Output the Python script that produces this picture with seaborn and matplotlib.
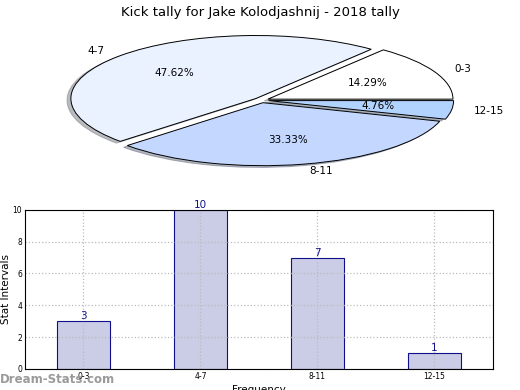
import pandas as pd
import matplotlib
matplotlib.use("Agg")
import matplotlib.pyplot as plt
import seaborn as sns

# data
intervals = ['0-3', '4-7', '8-11', '12-15']
counts = [3, 10, 7, 1]
pie_colors = ['#ffffff', '#eaf1ff', '#c3d7ff', '#b3d3ff']

sns.set_style("white")
plt.rcParams['font.family'] = ['DejaVu Sans']
plt.rcParams['text.color'] = 'black'
plt.rcParams['xtick.color'] = 'black'
plt.rcParams['ytick.color'] = 'black'
plt.rcParams['axes.labelcolor'] = 'black'

fig = plt.figure(figsize=(5.2, 3.9), dpi=100)

# pie (squashed ellipse)
ax1 = fig.add_axes([0.04, 0.533, 0.925, 0.42])
ax1.pie(counts, labels=intervals, colors=pie_colors, autopct='%.2f%%',
        startangle=0, counterclock=True, explode=[0.04] * 4,
        shadow={'ox': -0.015, 'oy': -0.02, 'shade': 0.5},
        labeldistance=1.12, pctdistance=0.6,
        wedgeprops={'edgecolor': 'black', 'linewidth': 0.7},
        textprops={'fontsize': 7.5})
ax1.set_aspect('auto')
ax1.set_xlim(-1.3, 1.3)
ax1.set_ylim(-1.3, 1.3)
fig.text(0.5, 0.985, 'Kick tally for Jake Kolodjashnij - 2018 tally',
         ha='center', va='top', fontsize=9.5)

# bars
df = pd.DataFrame({'interval': intervals, 'count': counts})
ax2 = fig.add_axes([0.048, 0.054, 0.9, 0.408])
sns.barplot(data=df, x='interval', y='count', ax=ax2, width=0.45,
            color='#cbcde6', edgecolor='#10108a', linewidth=0.8, saturation=1)
for i, c in enumerate(counts):
    ax2.text(i, c, str(c), ha='center', va='bottom', color='#10108a', fontsize=7.5)
ax2.set_xlim(-0.5, 3.5)
ax2.set_ylim(0, 10)
ax2.set_yticks(range(0, 11, 2))
ax2.grid(True, linestyle=':', color='#bbbbbb', linewidth=0.9)
ax2.set_axisbelow(False)
for s in ax2.spines.values():
    s.set_color('black')
    s.set_linewidth(0.8)
    s.set_zorder(6)
ax2.tick_params(labelsize=5.5, length=2, direction='in', pad=2)
ax2.set_xlabel('Frequency', fontsize=7.5, labelpad=3)
ax2.set_ylabel('Stat Intervals', fontsize=7.5, labelpad=1)

fig.text(0.0, 0.01, 'Dream-Stats.com', color='#9a9a9a', fontsize=8.5,
         fontweight='bold', ha='left', va='bottom')

fig.savefig('out.png', dpi=100)
